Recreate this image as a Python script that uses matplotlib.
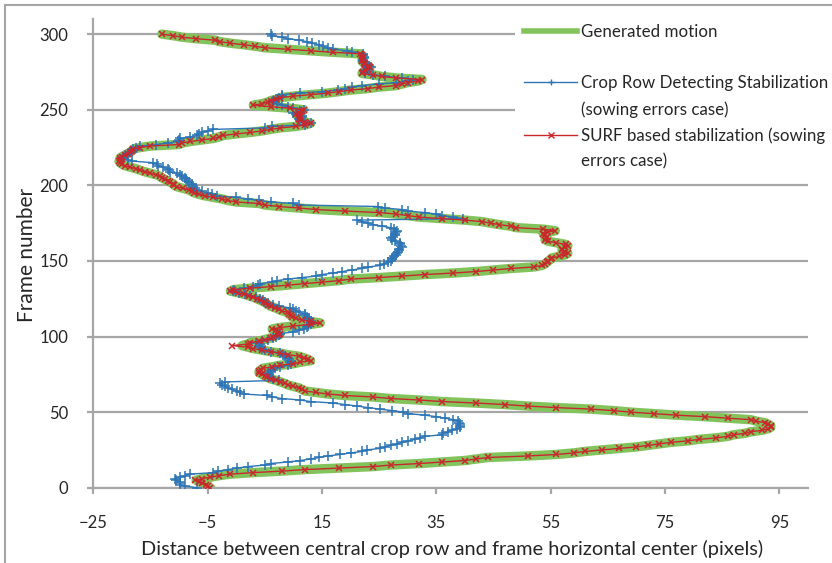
import matplotlib
matplotlib.use('Agg')
import matplotlib.pyplot as plt
from matplotlib.lines import Line2D

# ---------------- data ----------------
frames = list(range(301))

generated = [
    -4.5, -5, -5, -6, -6.5, -7, -6, -4.5, -3, -1,
    3, 8, 12, 18, 24, 27, 32, 36, 40, 42,
    44, 51, 56, 59, 61, 64, 67, 70, 72, 74,
    76, 79, 81, 84, 86, 87, 89, 90, 92, 93,
    93.5, 93.5, 93, 92.5, 91, 90, 86, 82, 77, 73,
    69, 66, 62, 56, 51, 47, 42, 36, 32, 27,
    24, 19, 16, 14, 12, 11.5, 11, 10, 9, 8.5,
    7.7, 7, 6, 5.4, 5, 4.5, 4, 4, 4.3, 4.7,
    6.3, 7.7, 10, 11.2, 13, 12.5, 11.8, 10.9, 9, 7.7,
    6, 4.5, 3, 2, 1, 2, 2.5, 4, 5, 6,
    6.5, 7.5, 7.7, 7.3, 7, 6.3, 7.7, 10, 13, 14.7,
    13, 11.5, 10.5, 9.8, 9.5, 9.2, 9, 8, 7.4, 6.8,
    6, 5.6, 5.2, 4.8, 4.2, 3.6, 3, 2.2, 1.3, 0.3,
    -1, -0.5, 2.5, 6, 9, 12, 15, 18, 20, 25,
    29, 33, 38, 42, 45, 48, 52, 53.5, 54, 54.3,
    54.6, 55, 55.2, 56.5, 57.5, 58, 57.5, 57, 57, 57.5,
    58, 57.6, 56, 54.6, 54, 54.2, 54.3, 54, 53.7, 54.5,
    55.8, 53.7, 49, 48, 46, 44.5, 43, 40, 36, 32,
    30, 28, 25, 19, 14, 11, 7.5, 5, 4, 0,
    -1.5, -2.5, -4, -5.4, -6.5, -7.3, -7.8, -8.3, -9.3, -10.3,
    -10.8, -11, -11.5, -12, -12.5, -13, -13.3, -14, -15, -16,
    -16.8, -17.5, -18.5, -19.5, -20, -20.3, -20.5, -20.3, -20.3, -20,
    -19.5, -19, -18.5, -18.2, -18, -16.8, -15, -10, -9.5, -8,
    -6, -4, -3, -2.3, 0, 2.5, 4.5, 6, 7.7, 10.5,
    12, 13, 12, 11.2, 11, 11.2, 11.2, 10.5, 10.9, 11.5,
    11.8, 9.4, 6, 3, 4.5, 5.5, 6, 7, 7.7, 10,
    13, 16, 18, 20, 23, 25, 28, 29, 30, 31.8,
    32.5, 28, 25.5, 24, 22, 22.2, 22.5, 23, 23.4, 23,
    22.5, 22.3, 22, 22, 22.1, 22.2, 22, 21.7, 17, 13,
    9, 5, 3.3, 1.3, -1, -2.8, -3.7, -7, -9.5, -11,
    -13,
]

surf = [
    -4.5, -5, -5.2, -6, -6.5, -7.2, -6, -4.5, -3, -1,
    3, 8, 12, 18, 24, 27, 32, 36, 40, 42,
    44, 51, 56, 59, 61, 64, 67, 70, 72, 74,
    76, 79, 81, 84, 86, 87, 89, 90, 92, 93,
    93.5, 93.5, 93, 92.5, 91, 90, 86, 82, 77, 73,
    69, 66, 62, 56, 51, 47, 42, 36, 32, 27,
    24, 19, 16, 14, 12, 11.5, 11, 10, 9, 8.5,
    7.7, 7, 6, 5.4, 5, 4.5, 4, 4, 4.3, 4.7,
    6.3, 7.7, 10, 11.2, 13, 12.5, 11.8, 10.9, 9, 7.7,
    6, 4.5, 3, 2, -0.8, 2, 2.5, 4, 5, 6,
    6.5, 7.5, 7.7, 7.3, 7, 6.3, 7.7, 10, 13, 14.7,
    13, 11.5, 10.5, 9.8, 9.5, 9.2, 9, 8, 7.4, 6.8,
    6, 5.6, 5.2, 4.8, 4.2, 3.6, 3, 2.2, 1.3, 0.3,
    -1, -0.5, 2.5, 6, 9, 12, 15, 18, 20, 25,
    29, 33, 38, 42, 45, 48, 52, 53.5, 54, 54.3,
    54.6, 55, 55.2, 56.5, 57.5, 58, 57.5, 57, 57, 57.5,
    58, 57.6, 56, 54.6, 54, 54.2, 54.3, 54, 53.7, 54.5,
    55.8, 53.7, 49, 48, 46, 44.5, 43, 40, 36, 32,
    30, 28, 25, 19, 14, 11, 7.5, 5, 4, 0,
    -1.5, -2.5, -4, -5.4, -6.5, -7.3, -7.8, -8.3, -9.3, -10.3,
    -10.8, -11, -11.5, -12, -12.5, -13, -13.3, -14, -15, -16,
    -16.8, -17.5, -18.5, -19.5, -20, -20.3, -20.5, -20.3, -20.3, -20,
    -19.5, -19, -18.5, -18.2, -18, -16.8, -15, -10, -9.5, -8,
    -6, -4, -3, -2.3, 0, 2.5, 4.5, 6, 7.7, 10.5,
    12, 13, 12, 11.2, 11, 11.2, 11.2, 10.5, 10.9, 11.5,
    11.8, 9.4, 6, 3, 4.5, 5.5, 6, 7, 7.7, 10,
    13, 16, 18, 20, 23, 25, 28, 29, 30, 31.8,
    32.5, 28, 25.5, 24, 22, 22.2, 22.5, 23, 23.4, 23,
    22.5, 22.3, 22, 22, 22.1, 22.2, 22, 21.7, 17, 13,
    9, 5, 3.3, 1.3, -1, -2.8, -3.7, -7, -9.5, -11,
    -13,
]

crop_row = [
    -6.8, -9, -9.8, -9.8, -9.8, -10.5, -10.7, -9.8, -9, -8,
    -4, -3.1, -1.5, 0.1, 2.1, 5, 6, 9, 11.2, 13,
    14.5, 16, 18.2, 20, 22, 22.8, 25.2, 26, 27, 28.2,
    29, 30, 31.3, 32.2, 33, 36, 36.2, 37, 37.8, 38.6,
    39.2, 39.2, 39.2, 39, 38.8, 38, 36.5, 35, 33, 30,
    29.2, 27.3, 25.2, 23, 21.2, 19, 17, 13, 11.2, 8,
    6.3, 5.4, 1.3, 0.6, 0.1, -0.7, -1.5, -1.9, -2.5, -2.8,
    -1.9, 7.4, 6.5, 6, 5.6, 5.6, 5.6, 6, 6.5, 6.8,
    7.7, 9, 9.5, 9.4, 9.5, 9.2, 9, 8.6, 8.2, 7.7,
    6, 5, 4.5, 4.2, 4, 4.2, 3.5, 4.5, 5.5, 6.5,
    7, 7.5, 7.7, 10, 11, 11.8, 12.4, 12.6, 13, 13,
    13, 12.8, 12.6, 12.3, 12.1, 12, 11, 10.5, 10, 9.4,
    7.4, 6.5, 5.6, 5, 4.6, 4.2, 3.5, 2.5, 1.5, 0.5,
    -0.5, -0.3, 1.3, 3, 3.8, 4.2, 6.3, 7.2, 9, 11.5,
    14, 15, 17, 18.5, 20.2, 22, 23, 25.2, 25.8, 26.5,
    27, 27.2, 27.3, 27.6, 27.9, 28.1, 28.3, 28.4, 28.4, 29,
    28.9, 28.7, 28.7, 27.8, 27.3, 27, 27.5, 27.8, 27.8, 28,
    28.2, 27.6, 27, 25.5, 24, 23, 22, 21.2, 39.7, 38,
    36, 35, 33, 30, 29, 26, 24.8, 11, 10, 6,
    4, 2, 0, -3.4, -4.2, -5, -6, -6.8, -7.2, -7.5,
    -7.7, -7.7, -8.2, -8.6, -8.8, -9, -9.4, -9.8, -10.4, -11.6,
    -11.7, -11.9, -12.8, -13.6, -13.9, -14.5, -18.2, -19, -19.8, -19.8,
    -19.4, -19, -18.6, -18.3, -18, -17.5, -16.8, -14, -12, -10.2,
    -10, -9.8, -8, -6.9, -6.5, -6, -5, -4, 5, 6.3,
    12, 13, 12, 11.2, 11, 11.5, 11.5, 10.5, 10, 11.2,
    11.8, 10, 9, 8, 7.2, 6.3, 6.5, 7, 7.5, 8,
    8, 11.2, 15, 17.8, 19, 20.3, 22, 25, 28, 30,
    31, 29, 26, 24, 22.5, 22.5, 22.5, 23, 23.5, 23.2,
    22.7, 22.4, 22.2, 22.2, 22.3, 22.3, 22.2, 22.2, 20.3, 19.4,
    17, 16, 15.2, 14.5, 13.3, 12.4, 11, 9, 8, 6.2,
    6,
]

x_ticks = [-25, -5, 15, 35, 55, 75, 95]
y_ticks = [0, 50, 100, 150, 200, 250, 300]

legend_labels = [
    "Generated motion",
    "",
    "Crop Row Detecting Stabilization",
    "(sowing errors case)",
    "SURF based stabilization (sowing",
    "errors case)",
]

# ---------------- styling ----------------
plt.rcParams['font.family'] = ['Lato', 'DejaVu Sans']
GRID = '#A6A6A6'
TEXT = '#262626'
GREEN = '#82C35C'
BLUE = '#2E75B6'
RED = '#C8282C'

fig = plt.figure(figsize=(8.32, 5.63), dpi=100)
ax = fig.add_axes([0.1121, 0.1337, 0.859, 0.8325])

ax.plot(generated, frames, color=GREEN, lw=6.8, solid_capstyle='round',
        solid_joinstyle='round', zorder=2)
ax.plot(crop_row, frames, color=BLUE, lw=1.0, marker='+', ms=7, mew=1.1, zorder=3)
ax.plot(surf, frames, color=RED, lw=1.0, marker='x', ms=5, mew=1.1, zorder=4)

ax.set_xlim(-25, 100)
ax.set_ylim(0, 310)
ax.set_xticks(x_ticks)
ax.set_yticks(y_ticks)
ax.yaxis.grid(True, color=GRID, lw=1.6)
ax.set_axisbelow(True)
for s in ['top', 'right']:
    ax.spines[s].set_visible(False)
for s in ['left', 'bottom']:
    ax.spines[s].set_color(GRID)
    ax.spines[s].set_linewidth(1.6)
ax.tick_params(axis='both', direction='out', length=4.5, width=1.6, color=GRID,
               labelsize=12, labelcolor=TEXT)
ax.tick_params(axis='x', pad=15)
ax.tick_params(axis='y', pad=13.5)

ax.set_xlabel("Distance between central crop row and frame horizontal center (pixels)",
              fontsize=14.4, color=TEXT)
ax.xaxis.set_label_coords(0.5026, -0.131)
ax.xaxis.label.set_va('center')
ax.set_ylabel("Frame number", fontsize=15, color=TEXT)
ax.yaxis.set_label_coords(-0.0928, 0.4965)
ax.yaxis.label.set_va('center')

handles = [
    Line2D([], [], color=GREEN, lw=4),
    Line2D([], [], ls='none'),
    Line2D([], [], color=BLUE, lw=1.0, marker='+', ms=5, mew=1.0),
    Line2D([], [], ls='none'),
    Line2D([], [], color=RED, lw=1.0, marker='x', ms=4, mew=1.0),
    Line2D([], [], ls='none'),
]
leg = ax.legend(handles, legend_labels, loc='upper left',
                bbox_to_anchor=(515 / 832, 1 - 15 / 563), bbox_transform=fig.transFigure,
                frameon=True, fancybox=False, edgecolor='none', facecolor='white',
                framealpha=1, fontsize=12.2, handlelength=3.15, handletextpad=0.24,
                labelspacing=0.57, borderpad=0.53, borderaxespad=0, numpoints=1)
leg.set_zorder(10)
for t in leg.get_texts():
    t.set_color(TEXT)

# outer chart border (left and top)
fig.add_artist(Line2D([5 / 832, 5 / 832], [0, 1 - 5 / 563], transform=fig.transFigure,
                      color=GRID, lw=1.5))
fig.add_artist(Line2D([5 / 832, 1], [1 - 5 / 563, 1 - 5 / 563], transform=fig.transFigure,
                      color=GRID, lw=1.5))

fig.savefig('out.png', dpi=100)
